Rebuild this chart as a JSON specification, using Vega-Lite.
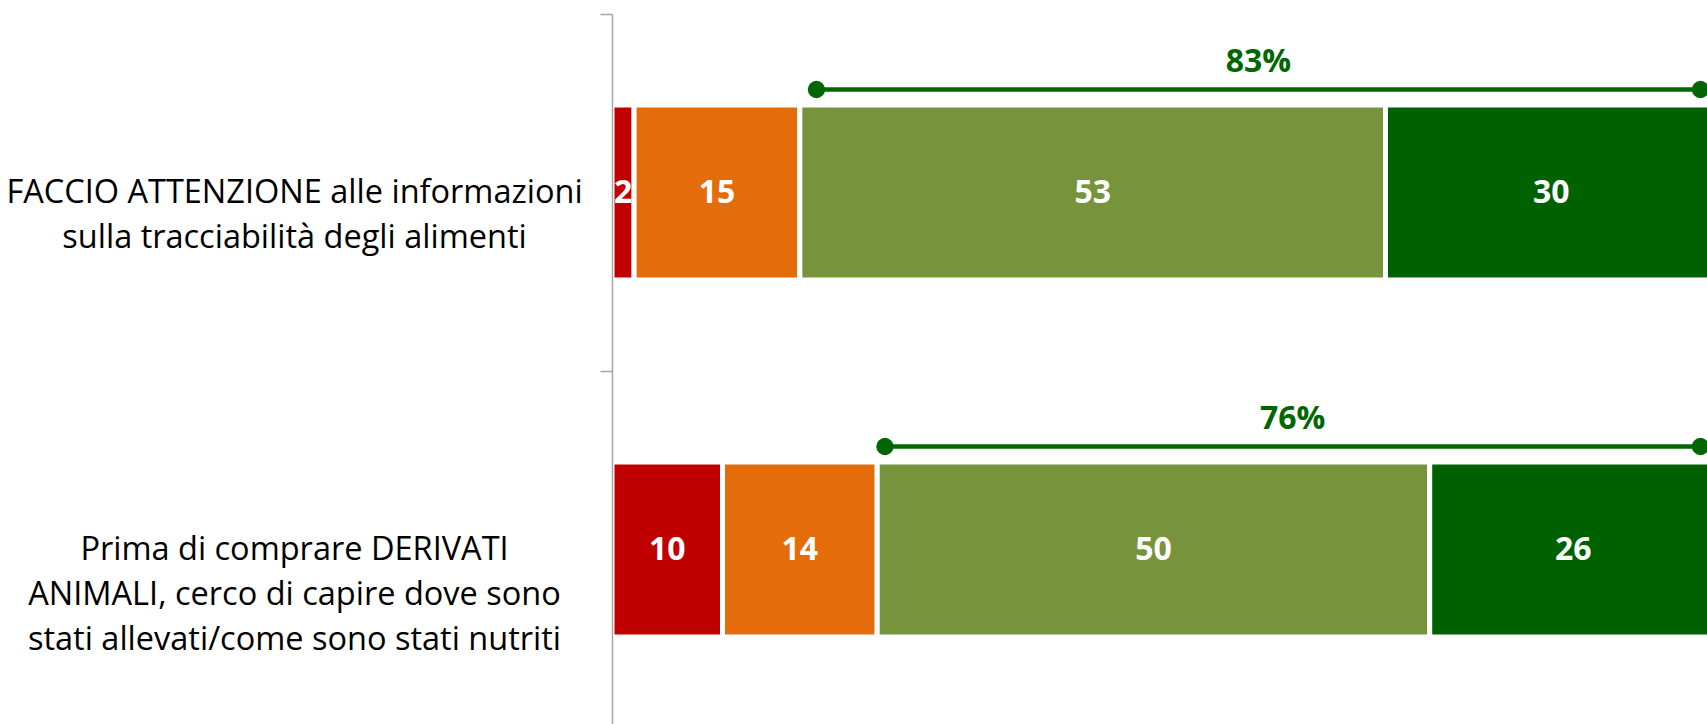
{
  "$schema": "https://vega.github.io/schema/vega-lite/v6.json",
  "autosize": "none",
  "padding": {"left": 612, "top": 14, "right": 0, "bottom": 0},
  "width": 1095,
  "height": 710,
  "background": "white",
  "config": {
    "view": {"stroke": null},
    "font": "Open Sans"
  },
  "datasets": {
    "bars": [
      {"item": "FACCIO ATTENZIONE alle informazioni|sulla tracciabilità degli alimenti", "risposta": "Per niente", "ord": 1, "v": 2},
      {"item": "FACCIO ATTENZIONE alle informazioni|sulla tracciabilità degli alimenti", "risposta": "Poco", "ord": 2, "v": 15},
      {"item": "FACCIO ATTENZIONE alle informazioni|sulla tracciabilità degli alimenti", "risposta": "Abbastanza", "ord": 3, "v": 53},
      {"item": "FACCIO ATTENZIONE alle informazioni|sulla tracciabilità degli alimenti", "risposta": "Molto", "ord": 4, "v": 30},
      {"item": "Prima di comprare DERIVATI|ANIMALI, cerco di capire dove sono|stati allevati/come sono stati nutriti", "risposta": "Per niente", "ord": 1, "v": 10},
      {"item": "Prima di comprare DERIVATI|ANIMALI, cerco di capire dove sono|stati allevati/come sono stati nutriti", "risposta": "Poco", "ord": 2, "v": 14},
      {"item": "Prima di comprare DERIVATI|ANIMALI, cerco di capire dove sono|stati allevati/come sono stati nutriti", "risposta": "Abbastanza", "ord": 3, "v": 50},
      {"item": "Prima di comprare DERIVATI|ANIMALI, cerco di capire dove sono|stati allevati/come sono stati nutriti", "risposta": "Molto", "ord": 4, "v": 26}
    ],
    "tot": [
      {"item": "FACCIO ATTENZIONE alle informazioni|sulla tracciabilità degli alimenti", "label": "83%", "da": 18.5, "a": 98.5},
      {"item": "Prima di comprare DERIVATI|ANIMALI, cerco di capire dove sono|stati allevati/come sono stati nutriti", "label": "76%", "da": 24.7, "a": 98.5}
    ]
  },
  "encoding": {
    "y": {
      "field": "item",
      "type": "nominal",
      "sort": null,
      "title": null,
      "scale": {"range": [0, 714], "paddingInner": 0, "paddingOuter": 0},
      "axis": {
        "zindex": 1,
        "labelExpr": "split(datum.label, '|')",
        "labelAlign": "center",
        "labelBaseline": "middle",
        "labelPadding": 306,
        "labelLimit": 700,
        "labelFont": "Open Sans",
        "labelFontSize": 32.5,
        "labelColor": "#000000",
        "labelLineHeight": 45,
        "tickBand": "extent",
        "tickSize": 12,
        "tickColor": "#A6A6A6",
        "tickWidth": 1.5,
        "domainColor": "#A6A6A6",
        "domainWidth": 1.5,
        "grid": false
      }
    }
  },
  "layer": [
    {
      "data": {"name": "bars"},
      "transform": [
        {"stack": "v", "groupby": ["item"], "sort": [{"field": "ord"}], "as": ["x0", "x1"]}
      ],
      "mark": {"type": "bar", "stroke": "white", "strokeWidth": 5, "height": {"band": 0.49}},
      "encoding": {
        "x": {"field": "x0", "type": "quantitative", "scale": {"domain": [0, 100], "range": [0, 1105], "nice": false, "zero": true}, "axis": null},
        "x2": {"field": "x1"},
        "color": {
          "field": "risposta",
          "type": "nominal",
          "scale": {"domain": ["Per niente", "Poco", "Abbastanza", "Molto"], "range": ["#C00000", "#E46C0A", "#77933C", "#006100"]},
          "legend": null
        }
      }
    },
    {
      "data": {"name": "bars"},
      "transform": [
        {"stack": "v", "groupby": ["item"], "sort": [{"field": "ord"}], "as": ["x0", "x1"]},
        {"fold": ["x0", "x1"], "as": ["k", "pos"]}
      ],
      "mark": {"type": "text", "color": "white", "font": "Open Sans", "fontWeight": "bold", "fontSize": 32, "baseline": "middle", "align": "center"},
      "encoding": {
        "x": {"aggregate": "mean", "field": "pos", "type": "quantitative"},
        "text": {"field": "v", "type": "quantitative"},
        "detail": {"field": "risposta"}
      }
    },
    {
      "data": {"name": "tot"},
      "mark": {"type": "rule", "color": "#006600", "strokeWidth": 4.5, "yOffset": -103},
      "encoding": {
        "x": {"field": "da", "type": "quantitative"},
        "x2": {"field": "a"}
      }
    },
    {
      "data": {"name": "tot"},
      "transform": [{"fold": ["da", "a"], "as": ["k", "pos"]}],
      "mark": {"type": "circle", "color": "#006600", "opacity": 1, "size": 300, "yOffset": -103},
      "encoding": {
        "x": {"field": "pos", "type": "quantitative"}
      }
    },
    {
      "data": {"name": "tot"},
      "transform": [{"fold": ["da", "a"], "as": ["k", "pos"]}],
      "mark": {"type": "text", "color": "#006600", "font": "Open Sans", "fontWeight": "bold", "fontSize": 32, "baseline": "middle", "align": "center", "yOffset": -131},
      "encoding": {
        "x": {"aggregate": "mean", "field": "pos", "type": "quantitative"},
        "text": {"field": "label", "type": "nominal"}
      }
    }
  ]
}
